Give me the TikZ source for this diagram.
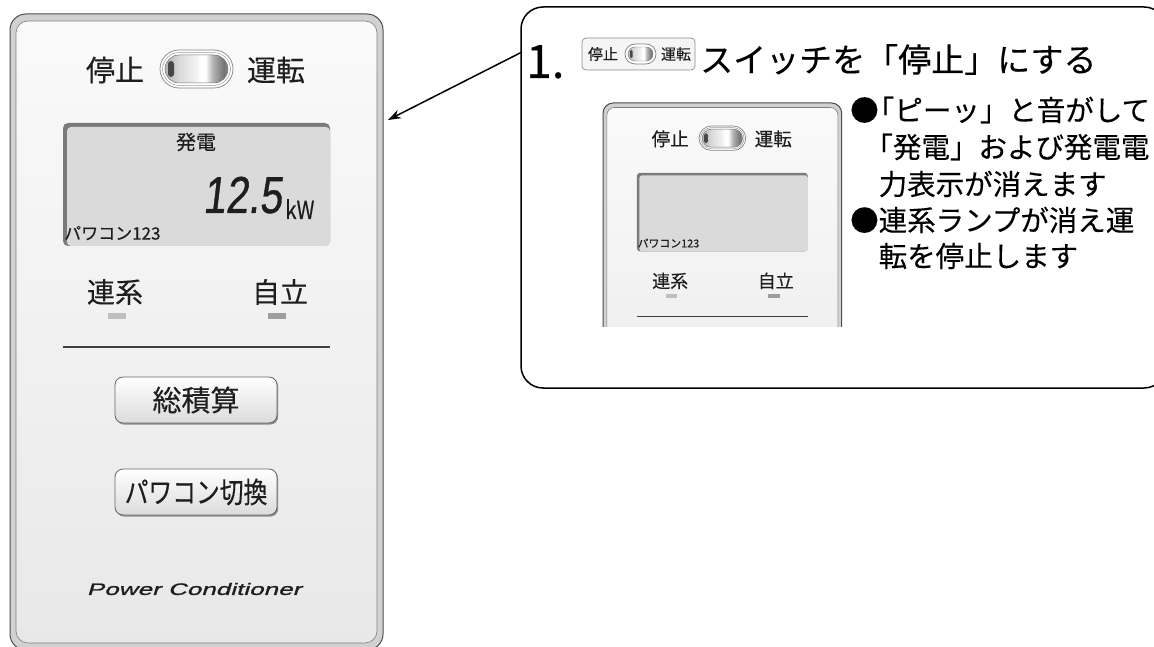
\documentclass[tikz,border=0pt]{standalone}
\usepackage{fontspec}
\setmainfont{Noto Sans CJK JP}[FakeBold=0.25]
\newfontfamily\narrowjp[FakeStretch=0.82,FakeBold=0.25]{Noto Sans CJK JP}
\newfontfamily\segfont[FakeSlant=0.12,FakeStretch=0.78,FakeBold=0.8]{Liberation Sans}
\newfontfamily\brandfont[FakeSlant=0.3,FakeStretch=1.58,FakeBold=1.2]{Liberation Sans}
\usetikzlibrary{arrows.meta,positioning,calc,shadows}
\definecolor{ink}{HTML}{1E1E1E}
\definecolor{lcdgray}{HTML}{DADADA}
\pgfdeclarehorizontalshading{knobshade}{100bp}{color(0bp)=(black!30); color(25bp)=(black!30);
  color(37bp)=(black!14); color(50bp)=(black!5); color(53bp)=(white); color(57bp)=(white);
  color(63bp)=(black!30); color(72bp)=(black!55); color(75bp)=(black!42); color(100bp)=(black!42)}
\tikzset{
  jp/.style={inner sep=0pt, text=ink},
  frame/.style={draw=black!70, fill=black!18, line width=1.0},
  face/.style={draw=black!50, top color=black!2, bottom color=black!9, line width=0.6},
  ring/.style={draw=black!50, fill=white, line width=0.7},
  lcdedge/.style={fill=black!52},
  lcdface/.style={fill=lcdgray},
  lamp/.style={fill=black!25},
  btn/.style={jp, draw=black!60, line width=0.8, rounded corners=8, top color=white,
    bottom color=black!14, minimum width=162, minimum height=46,
    font=\fontsize{29}{29}\selectfont,
    drop shadow={shadow xshift=1.2pt, shadow yshift=-1.6pt, fill=black!45, opacity=1}},
  callout/.style={draw=black, line width=1.5, rounded corners=22},
  arrow/.style={-{Stealth[length=13pt,width=9pt]}, line width=1.5},
  note/.style={jp, anchor=west, text=black, font=\fontsize{28.5}{28.5}\selectfont},
  pics/panel/.style={code={
    % case
    \draw[frame, rounded corners=16*#1] (0,0) rectangle (373,636);
    \draw[face, rounded corners=12*#1] (6,7) rectangle (367,629);
    % run switch
    \node[jp, font=\fontsize{29}{29}\selectfont] (-stop) at (105,56) {停止};
    \draw[ring, rounded corners=19*#1] (150,36) rectangle (223,74);
    \draw[black!40, line width=0.5, rounded corners=17*#1] (152.5,38.5) rectangle (220.5,71.5);
    \shade[shading=knobshade, rounded corners=14*#1] (155,41) rectangle (218,69);
    \draw[black!55, line width=0.5, rounded corners=14*#1] (155,41) rectangle (218,69);
    \fill[black!72, rounded corners=3*#1] (158,47) rectangle (164,63);
    \node[jp, font=\fontsize{29}{29}\selectfont] (-run) at (266,56) {運転};
    % display
    \fill[lcdedge, rounded corners=5*#1] (53,109) rectangle (320,232);
    \fill[lcdface, rounded corners=4*#1] (57,113) rectangle (320,232);
    \node[jp, anchor=west, font=\fontsize{17}{17}\selectfont] (-id) at (54,219) {パワコン123};
    % lamps
    \node[jp, font=\fontsize{28}{28}\selectfont] (-grid) at (105,278) {連系};
    \node[jp, font=\fontsize{28}{28}\selectfont] (-self) at (270,278) {自立};
    \fill[lamp] (98,299) rectangle (116,305);
    \fill[lamp, black!38] (258,299) rectangle (276,305);
    \draw[black!75, line width=1.1] (53,333) -- (320,333);
    % keys
    \node[btn] (-total) at (186,386) {総積算};
    \node[btn, font=\narrowjp\fontsize{29}{29}\selectfont] (-change) at (186,478) {パワコン切換};
    \node[jp, font=\brandfont\fontsize{16.5}{16.5}\selectfont] (-brand) at (184,575) {Power Conditioner};
  }},
}

\begin{document}
\begin{tikzpicture}[x=1pt,y=-1pt]
  \useasboundingbox (0,0) rectangle (1154,647);
  \fill[white] (0,0) rectangle (1154,647);

  % big unit
  \pic (big) at (10,14) {panel=1};
  \node[jp, font=\fontsize{20}{20}\selectfont] (gen) at (196,142) {発電};
  \node[jp, font=\segfont\fontsize{52}{52}\selectfont, anchor=base east] (power) at (282,213) {12.5};
  \node[jp, font=\narrowjp\fontsize{25}{25}\selectfont, anchor=base west] (unit) at (285,219) {kW};

  % step box
  \draw[callout] (521,7) rectangle (1166,388);
  \coordinate (calloutEdge) at (522,52);
  \coordinate (panelEdge) at (388,120);
  \draw[arrow] (calloutEdge) -- (panelEdge);

  \node[jp, text=black, font=\fontsize{46}{46}\selectfont, anchor=base west] (stepNo) at (526,78) {1.};
  \draw[draw=black!45, fill=black!4, rounded corners=4, line width=0.7] (582,38) rectangle (695,70);
  \node[jp, font=\fontsize{15}{15}\selectfont] (miniStop) at (603,54) {停止};
  \draw[ring, rounded corners=10] (625,44) rectangle (656,64);
  \shade[shading=knobshade, rounded corners=7] (628,47) rectangle (653,61);
  \draw[black!55, line width=0.4, rounded corners=7] (628,47) rectangle (653,61);
  \fill[black!72, rounded corners=1.2] (630,50) rectangle (632.5,58);
  \node[jp, font=\fontsize{15}{15}\selectfont] (miniRun) at (676,54) {運転};
  \node[jp, text=black, anchor=base west, font=\fontsize{33}{33}\selectfont] (stepText) at (700,72) {スイッチを「停止」にする};

  % small unit
  \begin{scope}
    \clip (595,95) rectangle (860,326);
    \pic[scale=0.64, transform shape] (small) at (603,103) {panel=0.64};
  \end{scope}

  \node[note] (noteA1) at (850,110) {●\kern-.45em「ピーッ」と音がして};
  \node[note] (noteA2) at (878.5,147) {\kern-.5em「発電」および発電電};
  \node[note] (noteA3) at (878.5,184) {力表示が消えます};
  \node[note] (noteB1) at (850,220) {●連系ランプが消え運};
  \node[note] (noteB2) at (878.5,256) {転を停止します};
\end{tikzpicture}
\end{document}
